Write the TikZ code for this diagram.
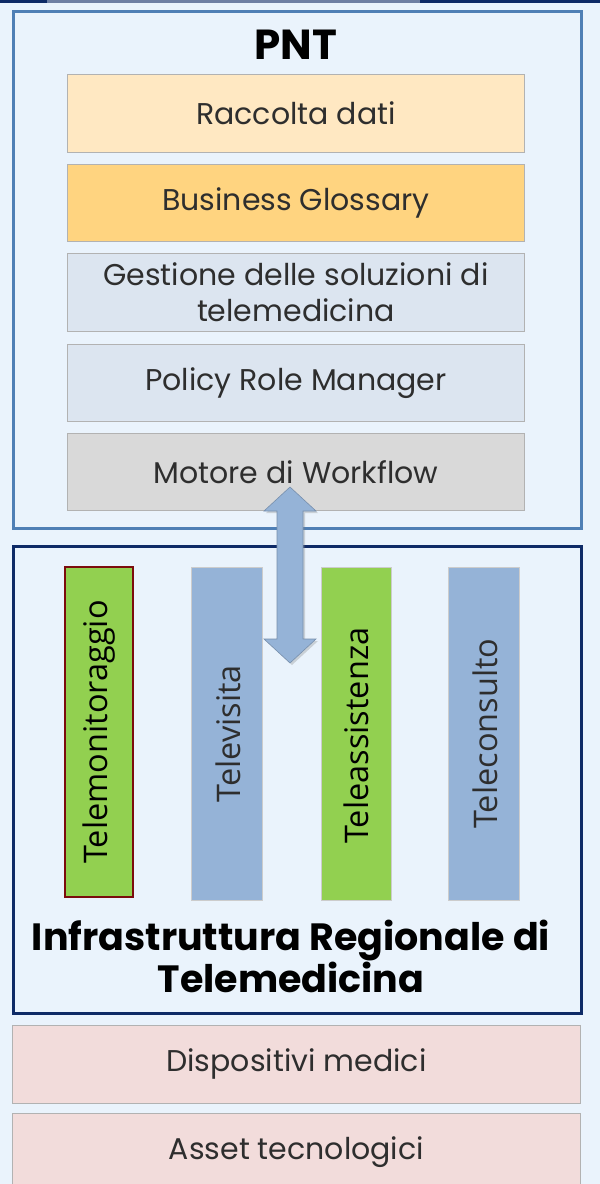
\documentclass[tikz,border=0pt]{standalone}
\usepackage{fontspec}
\setmainfont{Poppins}
\newfontfamily\colfont{Open Sans}
\usetikzlibrary{shadows,calc}
\definecolor{bgc}{HTML}{EAF3FC}
\definecolor{navy}{HTML}{0E2A66}
\definecolor{steel}{HTML}{4F7FB5}
\definecolor{lorange}{HTML}{FFE8C2}
\definecolor{morange}{HTML}{FFD480}
\definecolor{lgblue}{HTML}{DCE5F0}
\definecolor{lgray}{HTML}{D9D9D9}
\definecolor{pinkc}{HTML}{F2DCDB}
\definecolor{greenc}{HTML}{92D050}
\definecolor{bluec}{HTML}{95B3D7}
\definecolor{darkred}{HTML}{7B0C0C}
\definecolor{txt}{HTML}{2E2E2E}
\tikzset{
  x=1pt,y=-1pt,
  layer/.style={draw=gray!60,line width=0.8pt,text=txt,font=\fontsize{30}{36}\selectfont,align=center,inner sep=0pt},
  outerbox/.style={line width=2.5pt,fill=bgc,drop shadow={opacity=0.25,shadow xshift=2pt,shadow yshift=-2pt}},
  colbox/.style={inner sep=0pt,text=black,font=\colfont\fontsize{32.5}{36}\selectfont}
}
\begin{document}
\begin{tikzpicture}
\useasboundingbox (0,0) rectangle (600,1184);
\fill[bgc] (0,0) rectangle (600,1184);
\fill[navy] (0,0) rectangle (600,3);
\fill[navy!60] (47,0) rectangle (420,3);
% PNT
\node[outerbox,draw=steel,minimum width=568,minimum height=517,anchor=north west] (pnt) at (12,10) {};
\node[font=\bfseries\fontsize{42}{44}\selectfont] (pnttitle) at (296,45) {PNT};
\node[layer,fill=lorange,minimum width=457,minimum height=78,anchor=north west] (raccolta) at (67,74) {Raccolta dati};
\node[layer,fill=morange,minimum width=457,minimum height=77,anchor=north west] (glossary) at (67,164) {Business Glossary};
\node[layer,fill=lgblue,minimum width=457,minimum height=78,anchor=north west] (gestione) at (67,253) {Gestione delle soluzioni di\\telemedicina};
\node[layer,fill=lgblue,minimum width=457,minimum height=77,anchor=north west] (policy) at (67,344) {Policy Role Manager};
\node[layer,fill=lgray,minimum width=457,minimum height=77,anchor=north west] (motore) at (67,433) {Motore di Workflow};
% Infrastruttura
\node[outerbox,draw=navy,minimum width=568,minimum height=467,anchor=north west] (infra) at (12,545) {};
\node[colbox,fill=greenc,draw=darkred,line width=2pt,minimum width=68,minimum height=330,anchor=north west] (c1) at (64,566) {};
\node[colbox,fill=bluec,draw=gray!40,minimum width=71,minimum height=333,anchor=north west] (c2) at (191,567) {};
\node[colbox,fill=greenc,draw=gray!40,minimum width=70,minimum height=333,anchor=north west] (c3) at (321,567) {};
\node[colbox,fill=bluec,draw=gray!40,minimum width=71,minimum height=333,anchor=north west] (c4) at (448,567) {};
\node[colbox,rotate=90] (t1) at ($(c1.center)+(0,0)$) {Telemonitoraggio};
\node[colbox,rotate=90,text=txt] (t2) at ($(c2.center)+(2,0)$) {Televisita};
\node[colbox,rotate=90] (t3) at ($(c3.center)+(0,2)$) {Teleassistenza};
\node[colbox,rotate=90,text=txt] (t4) at ($(c4.center)+(2,0)$) {Teleconsulto};
\node[font=\bfseries\fontsize{38}{39}\selectfont,align=center] (infratitle) at (291,956) {Infrastruttura Regionale di\\Telemedicina};
% double arrow
\coordinate (atop) at (290,487);
\coordinate (abot) at (290,663);
\fill[bluec,draw=bluec!80!black,line width=0.6pt,drop shadow={opacity=0.3,shadow xshift=2pt,shadow yshift=-2pt}]
  (atop) -- ++(26,24) -- ++(-13,0) -- ++(0,128) -- ++(13,0) -- (abot) -- ++(-26,-24) -- ++(13,0) -- ++(0,-128) -- ++(-13,0) -- cycle;
% bottom layers
\node[layer,fill=pinkc,minimum width=568,minimum height=78,anchor=north west] (disp) at (12,1025) {Dispositivi medici};
\node[layer,fill=pinkc,minimum width=568,minimum height=78,anchor=north west] (asset) at (12,1113) {Asset tecnologici};
\end{tikzpicture}
\end{document}
